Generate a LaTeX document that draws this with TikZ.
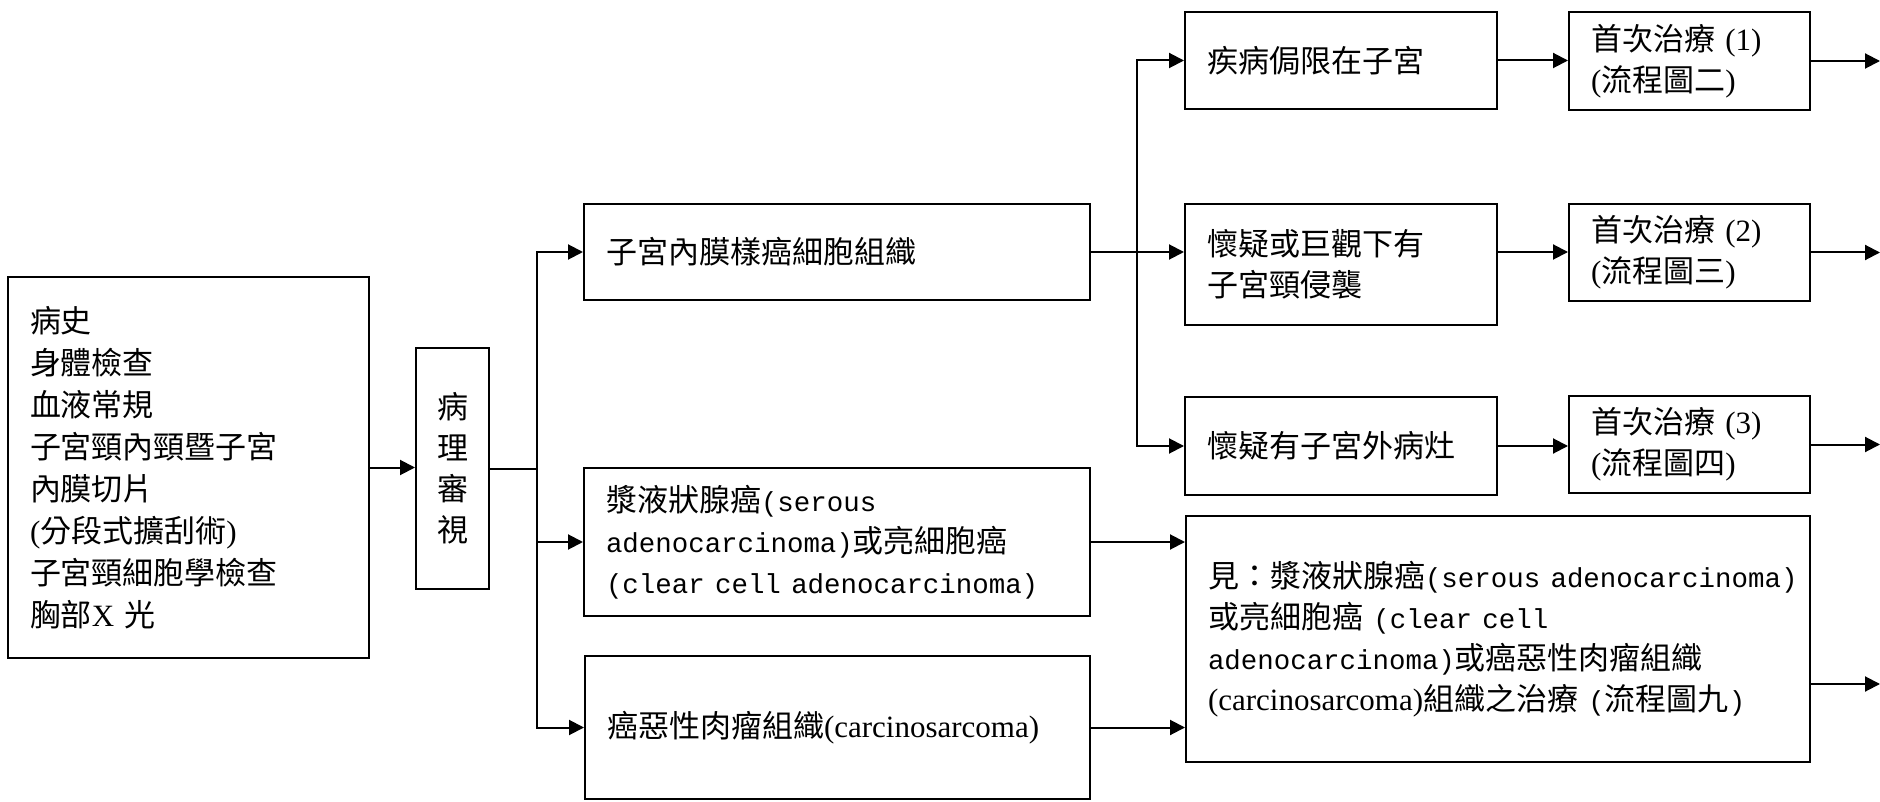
\documentclass[tikz,border=0pt]{standalone}
\usepackage{fontspec}
\setmainfont{Noto Sans CJK TC}
\newfontfamily\tnr{Liberation Serif}
\newfontfamily\mono{Liberation Mono}[Scale=0.885]
\usetikzlibrary{arrows.meta}
\hyphenpenalty=10000\relax
\begin{document}
\begin{tikzpicture}[x=0.5pt,y=-0.5pt,
  box/.style={draw,line width=1pt,inner xsep=11pt,inner ysep=0pt,align=left,
    font=\fontsize{15.5}{20.5}\selectfont},
  arr/.style={line width=1pt,-{Triangle[length=7.5pt,width=7.5pt]}},
  ln/.style={line width=1pt}]
\fill[white] (0,0) rectangle (1880,802);
\useasboundingbox (0,0) rectangle (1880,802);

% work-up and pathology review
\node[box,minimum width=180.5pt,minimum height=190.5pt,text width=158.5pt,
      font=\fontsize{15.5}{21}\selectfont] (hist) at (188.5,467.5)
  {病史\\身體檢查\\血液常規\\子宮頸內頸暨子宮\\內膜切片\\{\tnr(}分段式擴刮術{\tnr)}\\子宮頸細胞學檢查\\胸部{\tnr X}{\mono\ }光};
\node[box,align=center,inner xsep=0pt,minimum width=36.5pt,minimum height=120.5pt] (path) at (452.5,468.5)
  {病\\理\\審\\視};

% histology branches
\node[box,minimum width=253pt,minimum height=48pt,text width=231pt] (endo) at (837,252)
  {子宮內膜樣癌細胞組織};
\node[box,minimum width=253pt,minimum height=74pt,text width=231pt] (serous) at (837,542)
  {漿液狀腺癌{\mono(serous}\\{\mono adenocarcinoma)}或亮細胞癌\\\mbox{\mono(clear cell adenocarcinoma)}};
\node[box,minimum width=252.5pt,minimum height=71.5pt,text width=230.5pt] (carc) at (837.5,727.5)
  {癌惡性肉瘤組織{\tnr(carcinosarcoma)}};

% extent of disease
\node[box,minimum width=156pt,minimum height=48.5pt,text width=134pt] (conf) at (1341,60.5)
  {疾病侷限在子宮};
\node[box,minimum width=156pt,minimum height=60.5pt,text width=134pt] (cerv) at (1341,264.5)
  {懷疑或巨觀下有\\子宮頸侵襲};
\node[box,minimum width=156pt,minimum height=49pt,text width=134pt] (extra) at (1341,446)
  {懷疑有子宮外病灶};

% primary treatment
\node[box,minimum width=120.5pt,minimum height=49pt,text width=98.5pt] (t1) at (1689.5,61)
  {\mbox{首次治療{\mono\ }{\tnr(1)}}\\{\tnr(}流程圖二{\tnr)}};
\node[box,minimum width=120.5pt,minimum height=48.5pt,text width=98.5pt] (t2) at (1689.5,252.5)
  {\mbox{首次治療{\mono\ }{\tnr(2)}}\\{\tnr(}流程圖三{\tnr)}};
\node[box,minimum width=120.5pt,minimum height=48.5pt,text width=98.5pt] (t3) at (1689.5,444.5)
  {\mbox{首次治療{\mono\ }{\tnr(3)}}\\{\tnr(}流程圖四{\tnr)}};
\node[box,minimum width=312pt,minimum height=123pt,text width=290pt] (see) at (1498,639)
  {\mbox{見：漿液狀腺癌{\mono(serous adenocarcinoma)}}\\\mbox{或亮細胞癌{\mono\ (clear cell}}\\\mbox{{\mono adenocarcinoma)}或癌惡性肉瘤組織}\\\mbox{{\tnr(carcinosarcoma)}組織之治療{\mono\ (}流程圖九{\mono)}}\par\vspace*{9pt}};

% junctions and free ends
\coordinate (j1) at (537,468.5);
\coordinate (j2) at (1137,252);
\coordinate (o1) at (1880,61);
\coordinate (o2) at (1880,252.5);
\coordinate (o3) at (1880,444.5);
\coordinate (o4) at (1880,684);

% connectors
\draw[arr] (hist.east) -- (hist.east -| path.west);
\draw[ln] (path.east) -- (j1);
\draw[arr] (j1) |- (endo.west);
\draw[arr] (j1) |- (serous.west);
\draw[arr] (j1) |- (carc.west);

\draw[ln] (endo.east) -- (j2);
\draw[arr] (j2) |- (conf.west);
\draw[arr] (j2) -- (j2 -| cerv.west);
\draw[arr] (j2) |- (extra.west);

\draw[arr] (conf.east) -- (conf.east -| t1.west);
\draw[arr] (j2 -| cerv.east) -- (j2 -| t2.west);
\draw[arr] (extra.east) -- (extra.east -| t3.west);

\draw[arr] (t1.east) -- (o1);
\draw[arr] (t2.east) -- (o2);
\draw[arr] (t3.east) -- (o3);

\draw[arr] (serous.east) -- (serous.east -| see.west);
\draw[arr] (carc.east) -- (carc.east -| see.west);
\draw[arr] (see.east |- o4) -- (o4);
\end{tikzpicture}
\end{document}
